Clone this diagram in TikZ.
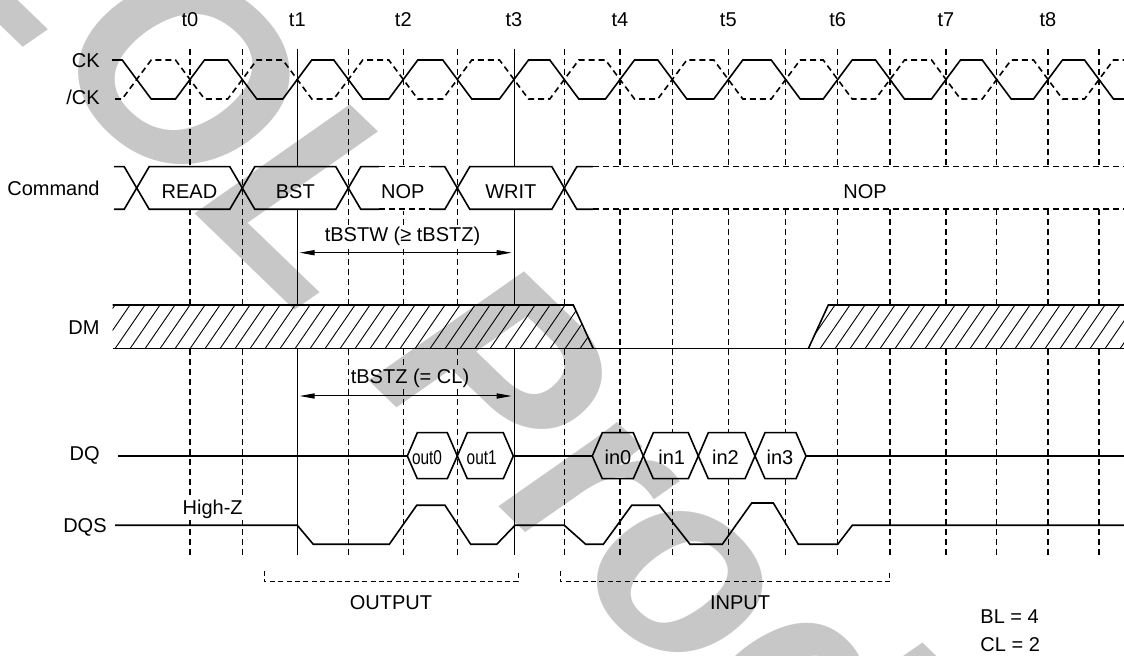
\documentclass[tikz,border=0pt]{standalone}
\usepackage{fontspec}
\setmainfont{Liberation Sans}
\usetikzlibrary{arrows.meta}
\tikzstyle{signal}=[line width=0.8pt, line join=miter]
\tikzstyle{dont care}=[signal, dash pattern=on 3pt off 2pt]
\tikzstyle{grid line}=[line width=0.55pt, dash pattern=on 3pt off 2pt]
\tikzstyle{time line}=[line width=0.45pt]
\tikzstyle{hatch}=[line width=0.45pt]
\tikzstyle{bracket}=[line width=0.5pt, dash pattern=on 2.5pt off 1.7pt]
\tikzstyle{gap}=[{Triangle[length=7.5pt, width=2.6pt]}-{Triangle[length=7.5pt, width=2.6pt]}, line width=0.5pt, shorten <=1.2pt, shorten >=1.2pt]
\tikzstyle{txt}=[font=\fontsize{10}{12}\selectfont, inner sep=0]
\tikzstyle{row label}=[txt, anchor=base east]
\tikzstyle{watermark}=[text=black!22, inner sep=0, font=\fontsize{135.5}{135.5}\selectfont\bfseries\itshape]

\begin{document}
\begin{tikzpicture}[x=0.5pt, y=-0.5pt]
  \useasboundingbox (0,0) rectangle (1124,656);

  \foreach \x/\t in {190/0, 297.3/1, 403.3/2, 514/3, 620/4, 728.3/5, 837.7/6, 946/7, 1048/8}
    \node[txt, anchor=base] (t\t) at (\x,27) {t\t};

  \foreach \x in {190,242.3,348.3,403.3,457.3,564.3,620,672.3,728.3,785.7,837.7,890,946,996.7,1048,1099}
    \draw[grid line] (\x,49) -- (\x,555);
  \coordinate (t1 top) at (297.3,49);
  \coordinate (t1 bottom) at (297.3,555);
  \coordinate (t3 top) at (514,49);
  \coordinate (t3 bottom) at (514,555);
  \draw[time line] (t1 top) -- (t1 bottom);
  \draw[time line] (t3 top) -- (t3 bottom);

  \node[row label] (ck) at (100,68) {CK};
  \node[row label] (ckbar) at (100,105) {/CK};
  \draw[signal] (112,60)
    \foreach \x [count=\i] in {136.7,190,242.3,297.3,348.3,403.3,457.3,514,564.3,620,672.3,728.3,785.7,837.7,890,946,996.7,1048,1099}
      { -- ({\x-14.5},{79.5+19.5*cos(180*\i)}) -- ({\x+14.5},{79.5-19.5*cos(180*\i)}) }
    -- (1124,99);
  \draw[dont care] (115,99)
    \foreach \x [count=\i] in {136.7,190,242.3,297.3,348.3,403.3,457.3,514,564.3,620,672.3,728.3,785.7,837.7,890,946,996.7,1048,1099}
      { -- ({\x-14.5},{79.5-19.5*cos(180*\i)}) -- ({\x+14.5},{79.5+19.5*cos(180*\i)}) }
    -- (1124,60);

  \node[row label] (cmd) at (100,196) {Command};
  \draw[signal] (114,166.7) -- (124.2,166.7) -- (136.7,188) -- (124.2,209.3) -- (114,209.3);
  \foreach \a/\b/\name/\txt in {136.7/242.3/read/READ, 242.3/348.3/bst/BST, 348.3/457.3/nop/NOP, 457.3/564.3/writ/WRIT} {
    \draw[signal, fill=white] (\a,188) -- ({\a+12.5},166.7) -- ({\b-12.5},166.7) -- (\b,188)
      -- ({\b-12.5},209.3) -- ({\a+12.5},209.3) -- cycle;
    \node[txt, anchor=base] (\name) at ({(\a+\b)/2},198.3) {\txt};
  }
  \draw[white, line width=1.6pt] (379,166.7) -- (431,166.7) (379,209.3) -- (431,209.3);
  \draw[dont care] (379,166.7) -- (431,166.7) (379,209.3) -- (431,209.3);
  \fill[white] (564.3,188) -- (576.8,166.7) -- (1124,166.7) -- (1124,209.3) -- (576.8,209.3) -- cycle;
  \draw[signal] (593,166.7) -- (576.8,166.7) -- (564.3,188) -- (576.8,209.3) -- (593,209.3);
  \draw[dont care] (593,166.7) -- (1124,166.7) (593,209.3) -- (1124,209.3);
  \node[txt, anchor=base] (nop wait) at (865,198.3) {NOP};

  \coordinate (bstw left) at (297.3,252.7);
  \coordinate (bstw right) at (514,252.7);
  \draw[gap] (bstw left) -- (bstw right);
  \node[txt, anchor=base, fill=white, inner sep=1pt] (bstw) at (402.5,242) {tBSTW (≥ tBSTZ)};

  \node[row label] (dm) at (100,335) {DM};
  \fill[white] (112.7,305) -- (573.3,305) -- (593.3,348.7) -- (112.7,348.7) -- cycle;
  \fill[white] (808.3,348.7) -- (828.3,305) -- (1124,305) -- (1124,348.7) -- cycle;
  \begin{scope}
    \clip (112.7,305) -- (573.3,305) -- (593.3,348.7) -- (112.7,348.7) -- cycle
          (808.3,348.7) -- (828.3,305) -- (1124,305) -- (1124,348.7) -- cycle;
    \foreach \x in {85,100,...,1130}
      \draw[hatch] (\x,348.7) -- ++(30,-43.7);
  \end{scope}
  \draw[signal] (112.7,305) -- (573.3,305) -- (593.3,348.7);
  \draw[signal] (808.3,348.7) -- (828.3,305) -- (1124,305);
  \draw[signal] (112.7,348.7) -- (1124,348.7);

  \coordinate (bstz left) at (297.3,396);
  \coordinate (bstz right) at (514,396);
  \draw[gap] (bstz left) -- (bstz right);
  \node[txt, anchor=base, fill=white, inner sep=1pt] (bstz) at (410,383.3) {tBSTZ (= CL)};

  \node[row label] (dq) at (100,461) {DQ};
  \draw[signal] (118.3,456) -- (407.3,456) (513.3,456) -- (592.3,456) (806,456) -- (1124,456);
  \foreach \a/\b/\name/\tx/\txt in {407.3/457.3/out0/427/\scalebox{0.77}[1]{out0}, 457.3/513.3/out1/481.7/\scalebox{0.77}[1]{out1},
      592.3/643.3/in0/618/in0, 643.3/698.3/in1/671.7/in1, 698.3/755/in2/725.5/in2, 755/806/in3/780/in3} {
    \draw[signal, fill=white] (\a,456) -- ({\a+10},432.7) -- ({\b-10},432.7) -- (\b,456)
      -- ({\b-10},478.7) -- ({\a+10},478.7) -- cycle;
    \node[txt, anchor=base] (\name) at (\tx,464.5) {\txt};
  }

  \node[row label] (dqs) at (107,533) {DQS};
  \draw[signal] (115,525.3) -- (297.3,525.3) -- (313.3,544.3) -- (389.3,544.3) -- (416.7,505.3)
    -- (445,505.3) -- (470.7,544.3) -- (496.7,544.3) -- (515,525.3) -- (564.3,525.3)
    -- (585.7,544.3) -- (603.3,544.3) -- (631.7,505.3) -- (659.3,505.3) -- (690,544.3)
    -- (722.3,544.3) -- (751.7,503) -- (773.3,503) -- (798.3,544.3) -- (837.7,544.3)
    -- (852.3,525.3) -- (1124,525.3);
  \node[txt, anchor=base, fill=white, inner sep=1pt] (highz) at (212.7,514.3) {High-Z};

  \draw[bracket] (264,571) -- (264,582) -- (518,582) -- (518,571);
  \draw[bracket] (560,571) -- (560,582) -- (889.3,582) -- (889.3,571);
  \node[txt, anchor=base] (output) at (391,610) {OUTPUT};
  \node[txt, anchor=base] (input) at (740,610) {INPUT};
  \node[txt, anchor=base west] (bl) at (980,623.3) {BL = 4};
  \node[txt, anchor=base west] (cl) at (980,652) {CL = 2};

  \begin{scope}[blend mode=multiply]
    \clip (0,0) rectangle (1124,656);
    \node[watermark, anchor=base west, rotate=-44] (eol) at (-90,-62) {EOL Product};
  \end{scope}
\end{tikzpicture}
\end{document}
